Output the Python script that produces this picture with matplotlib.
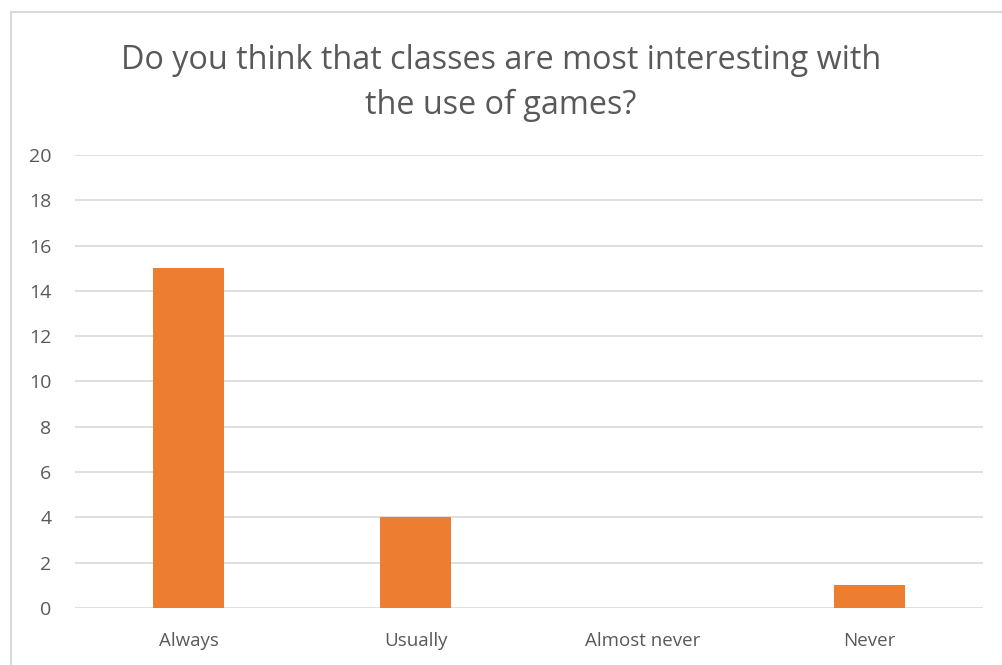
import matplotlib.pyplot as plt
from matplotlib.lines import Line2D

categories = ["Always", "Usually", "Almost never", "Never"]
counts = [15, 4, 0, 1]
yticks = [0, 2, 4, 6, 8, 10, 12, 14, 16, 18, 20]

plt.rcParams['font.family'] = ['Open Sans', 'DejaVu Sans']

fig = plt.figure(figsize=(10.02, 6.65), dpi=100)
ax = fig.add_axes([75 / 1002, 1 - 608 / 665, 908 / 1002, 453 / 665])

# light frame along the left and top of the chart area
fx, fy = 10.5 / 1002, 1 - 11.5 / 665
fig.lines.append(Line2D([fx, fx], [0, fy], transform=fig.transFigure, color='#d9d9d9', linewidth=1.5))
fig.lines.append(Line2D([fx, 1], [fy, fy], transform=fig.transFigure, color='#d9d9d9', linewidth=1.5))

x = range(len(categories))
ax.bar(x, counts, width=0.315, color='#ed7d31', zorder=3)

ax.set_xlim(-0.5, len(categories) - 0.5)
ax.set_ylim(0, 20)
ax.set_yticks(yticks)
ax.set_xticks(list(x))
ax.set_xticklabels(categories)
ax.tick_params(length=0, labelsize=13.5, colors='#595959', pad=17)
ax.tick_params(axis='y', labelsize=14, pad=17)
ax.grid(axis='y', color='#d9d9d9', linewidth=1.2, zorder=0)
for s in ax.spines.values():
    s.set_visible(False)

fig.text(0.5, 1 - 83 / 665, "Do you think that classes are most interesting with\nthe use of games?",
         ha='center', va='center', fontsize=23.3, color='#595959', linespacing=1.5)

fig.savefig('out.png', dpi=100)
